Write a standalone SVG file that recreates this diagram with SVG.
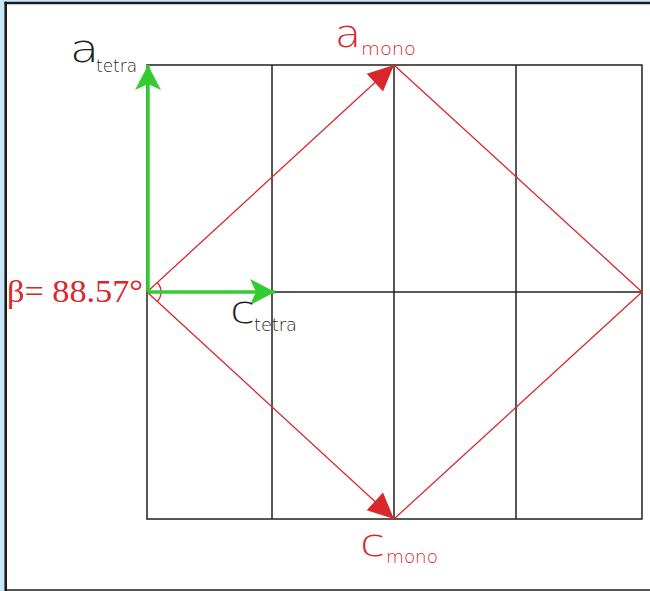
<svg xmlns="http://www.w3.org/2000/svg" width="650" height="591" viewBox="0 0 650 591">
<style>
.grid{stroke:#231f20;stroke-width:1.5;fill:none}
.red{stroke:#d8282a;stroke-width:1.3;fill:none}
.green{stroke:#33cc33;stroke-width:3.5;fill:none}
.lbl{font-family:"DejaVu Sans","Liberation Sans",Arial,sans-serif;font-weight:200}
.big{font-size:38px}
.sub{font-size:18px}
.blk{fill:#231f20}
.rtx{fill:#d8282a}
</style>
<defs>
<marker id="redArrow" markerUnits="userSpaceOnUse" viewBox="-27 -13 28 26" markerWidth="28" markerHeight="26" refX="0" refY="0" orient="auto">
<path d="M0,0 L-26,-12 L-26,12 Z" fill="#d8282a"/>
</marker>
<marker id="greenArrow" markerUnits="userSpaceOnUse" viewBox="-26 -14 27 28" markerWidth="27" markerHeight="28" refX="0" refY="0" orient="auto">
<path d="M0,0 L-25,-13 L-19,0 L-25,13 Z" fill="#33cc33"/>
</marker>
</defs>
<rect x="0" y="0" width="650" height="591" fill="#ffffff"/>
<g id="frame">
<rect x="0" y="0" width="4.5" height="591" fill="#c8e6fa"/>
<rect x="0" y="0" width="650" height="1.8" fill="#c8e6fa"/>
<line x1="5.7" y1="1.8" x2="5.7" y2="591" stroke="#1a1a1a" stroke-width="2.6"/>
<line x1="4.4" y1="3" x2="650" y2="3" stroke="#1a1a1a" stroke-width="2.6"/>
<line x1="7" y1="590" x2="650" y2="590" stroke="#555555" stroke-width="2"/>
</g>
<g id="grid">
<rect class="grid" x="147" y="65" width="495" height="454"/>
<line class="grid" x1="147" y1="292" x2="642" y2="292"/>
<line class="grid" x1="272" y1="65" x2="272" y2="519"/>
<line class="grid" x1="394" y1="65" x2="394" y2="519"/>
<line class="grid" x1="516" y1="65" x2="516" y2="519"/>
</g>
<g id="connectors">
<line class="red" x1="147" y1="292" x2="394" y2="65" marker-end="url(#redArrow)"/>
<line class="red" x1="147" y1="292" x2="394" y2="519" marker-end="url(#redArrow)"/>
<line class="red" x1="394" y1="65" x2="642" y2="292"/>
<line class="red" x1="642" y1="292" x2="394" y2="519"/>
<path class="red" d="M157.3,282.5 A14,14 0 0 1 157.3,301.5"/>
<line class="green" x1="148" y1="292" x2="148" y2="65" marker-end="url(#greenArrow)"/>
<line class="green" x1="148" y1="292" x2="275" y2="292" marker-end="url(#greenArrow)"/>
</g>
<g id="a_tetra" class="lbl blk">
<text class="big" x="70" y="62" textLength="29" lengthAdjust="spacingAndGlyphs">a</text>
<text class="sub" x="96" y="72" textLength="41" lengthAdjust="spacingAndGlyphs">tetra</text>
</g>
<g id="c_tetra" class="lbl blk">
<text class="big" x="230" y="323" textLength="25" lengthAdjust="spacingAndGlyphs">c</text>
<text class="sub" x="254" y="331" textLength="43" lengthAdjust="spacingAndGlyphs">tetra</text>
</g>
<g id="a_mono" class="lbl rtx">
<text class="big" x="335" y="47" textLength="26" lengthAdjust="spacingAndGlyphs">a</text>
<text class="sub" x="361" y="55" textLength="55" lengthAdjust="spacingAndGlyphs">mono</text>
</g>
<g id="c_mono" class="lbl rtx">
<text class="big" x="360" y="556" textLength="25" lengthAdjust="spacingAndGlyphs">c</text>
<text class="sub" x="386" y="563" textLength="52" lengthAdjust="spacingAndGlyphs">mono</text>
</g>
<g id="beta">
<text x="7" y="302" font-family="Liberation Serif, Times New Roman, serif" font-size="31" fill="#d8282a" textLength="136" lengthAdjust="spacingAndGlyphs">β= 88.57°</text>
</g>
</svg>
